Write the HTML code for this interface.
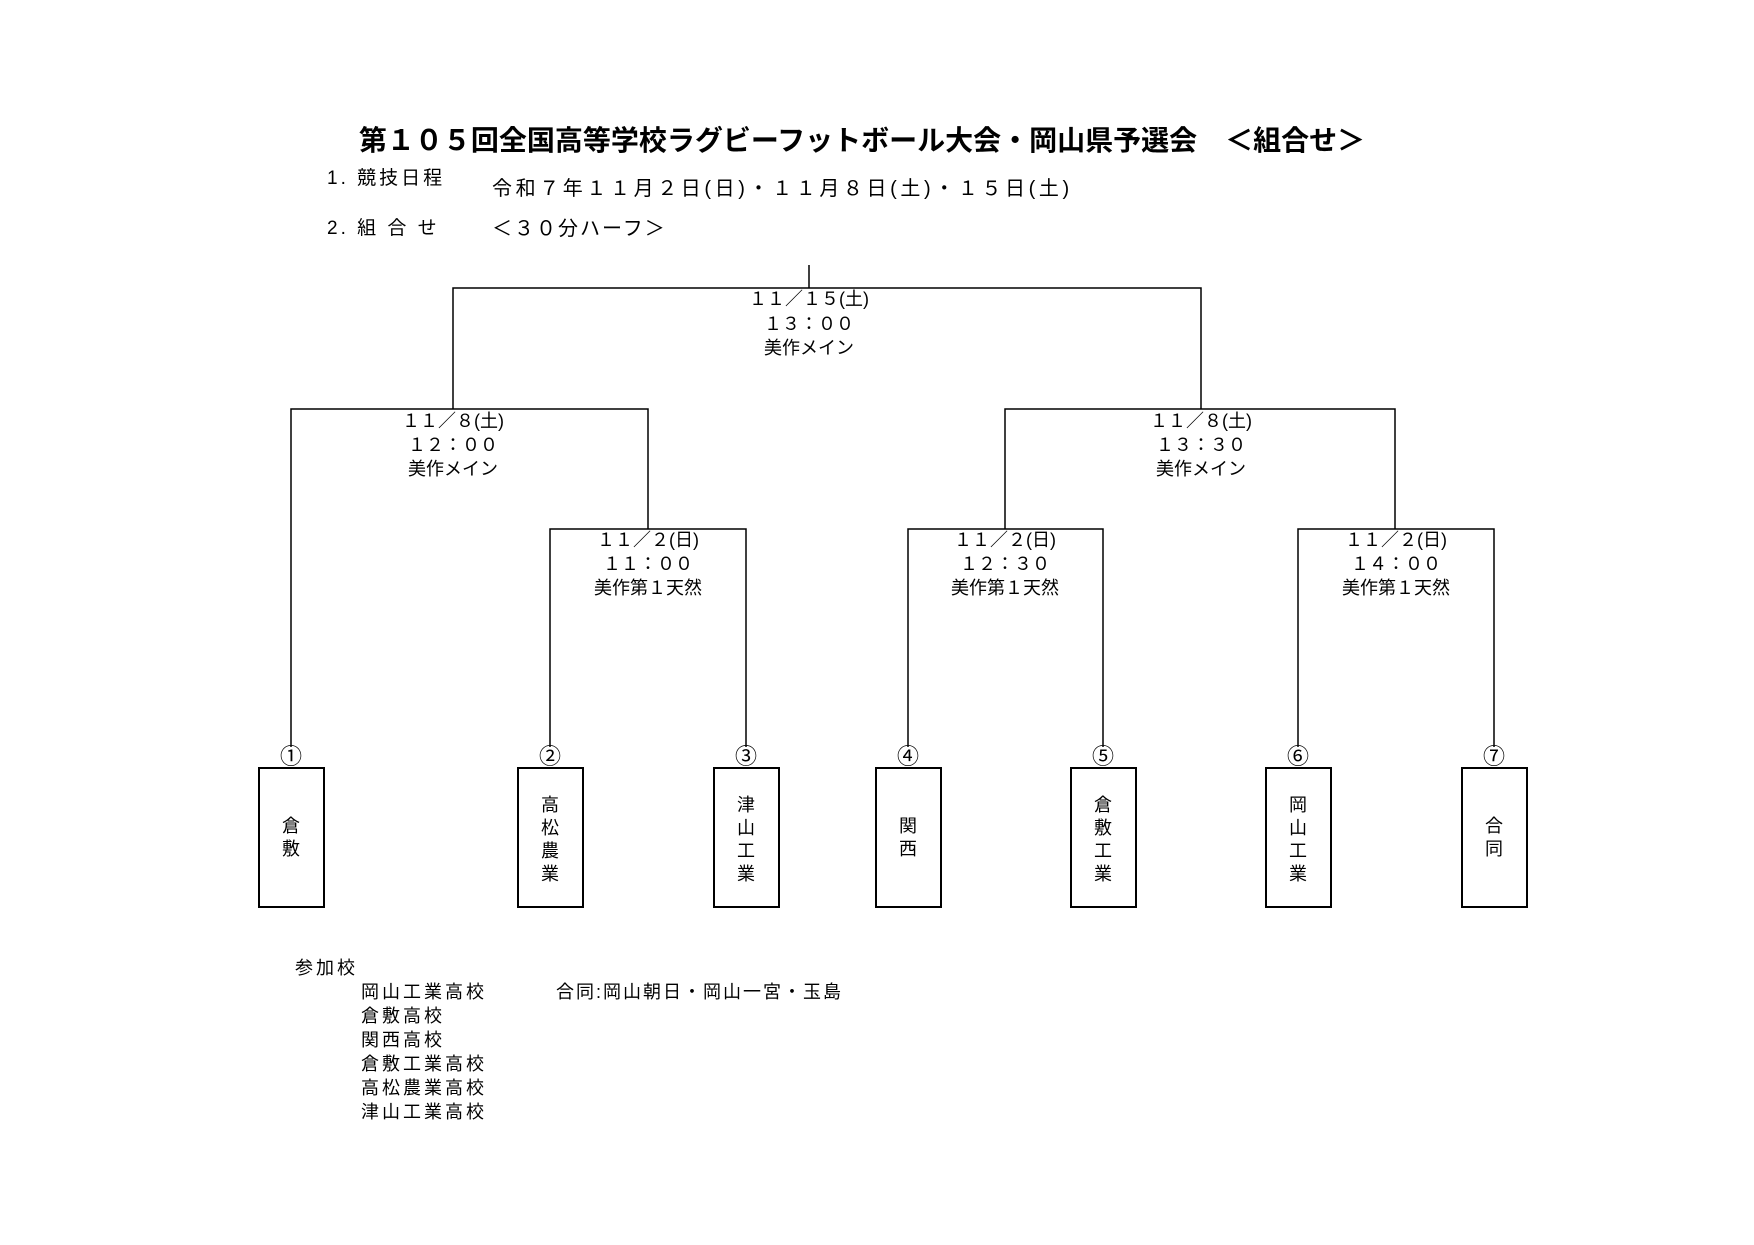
<!DOCTYPE html>
<html><head><meta charset="utf-8"><style>
html,body{margin:0;padding:0;background:#fff}
svg text{font-family:"Liberation Sans","Noto Sans CJK JP",sans-serif;fill:#000}
</style></head><body>
<svg width="1754" height="1240" viewBox="0 0 1754 1240" xmlns="http://www.w3.org/2000/svg">
<text x="862" y="150" font-size="28" font-weight="bold" text-anchor="middle">第１０５回全国高等学校ラグビーフットボール大会・岡山県予選会　＜組合せ＞</text>
<text x="327" y="184" font-size="19" letter-spacing="3">1.  競技日程</text>
<text x="492" y="195" font-size="20" letter-spacing="3.6">令和７年１１月２日(日)・１１月８日(土)・１５日(土)</text>
<text x="327" y="234" font-size="19" letter-spacing="3">2.  組  合  せ</text>
<text x="492" y="235" font-size="20" letter-spacing="2">＜３０分ハーフ＞</text>
<g stroke="#000" stroke-width="1.5" fill="none">
<path d="M809 265V288M453 409V288H1201V409"/>
<path d="M291 747V409H648V529M550 747V529H746V747"/>
<path d="M1005 529V409H1395V529"/>
<path d="M908 747V529H1103V747M1298 747V529H1494V747"/>
</g>
<g font-size="18" text-anchor="middle">
<text x="809" y="305">１１／１５(土)</text><text x="809" y="330">１３：００</text><text x="809" y="354">美作メイン</text>
<text x="453" y="427">１１／８(土)</text><text x="453" y="451">１２：００</text><text x="453" y="475">美作メイン</text>
<text x="1201" y="427">１１／８(土)</text><text x="1201" y="451">１３：３０</text><text x="1201" y="475">美作メイン</text>
<text x="648" y="546">１１／２(日)</text><text x="648" y="570">１１：００</text><text x="648" y="594">美作第１天然</text>
<text x="1005" y="546">１１／２(日)</text><text x="1005" y="570">１２：３０</text><text x="1005" y="594">美作第１天然</text>
<text x="1396" y="546">１１／２(日)</text><text x="1396" y="570">１４：００</text><text x="1396" y="594">美作第１天然</text>
</g>
<g stroke="#000" stroke-width="2" fill="none">
<rect x="259" y="768" width="65" height="139"/>
<rect x="518" y="768" width="65" height="139"/>
<rect x="714" y="768" width="65" height="139"/>
<rect x="876" y="768" width="65" height="139"/>
<rect x="1071" y="768" width="65" height="139"/>
<rect x="1266" y="768" width="65" height="139"/>
<rect x="1462" y="768" width="65" height="139"/>
</g>
<g font-size="22" text-anchor="middle">
<text x="291" y="764">①</text><text x="550" y="764">②</text><text x="746" y="764">③</text><text x="908" y="764">④</text><text x="1103" y="764">⑤</text><text x="1298" y="764">⑥</text><text x="1494" y="764">⑦</text>
</g>
<g font-size="18" text-anchor="middle">
<text x="291" y="832">倉</text><text x="291" y="855">敷</text>
<text x="550" y="811">高</text><text x="550" y="834">松</text><text x="550" y="857">農</text><text x="550" y="880">業</text>
<text x="746" y="811">津</text><text x="746" y="834">山</text><text x="746" y="857">工</text><text x="746" y="880">業</text>
<text x="908" y="832">関</text><text x="908" y="855">西</text>
<text x="1103" y="811">倉</text><text x="1103" y="834">敷</text><text x="1103" y="857">工</text><text x="1103" y="880">業</text>
<text x="1298" y="811">岡</text><text x="1298" y="834">山</text><text x="1298" y="857">工</text><text x="1298" y="880">業</text>
<text x="1494" y="832">合</text><text x="1494" y="855">同</text>
</g>
<g font-size="18" letter-spacing="3">
<text x="295" y="974">参加校</text>
<text x="361" y="998">岡山工業高校</text>
<text x="556" y="998" letter-spacing="2">合同:岡山朝日・岡山一宮・玉島</text>
<text x="361" y="1022">倉敷高校</text>
<text x="361" y="1046">関西高校</text>
<text x="361" y="1070">倉敷工業高校</text>
<text x="361" y="1094">高松農業高校</text>
<text x="361" y="1118">津山工業高校</text>
</g>
</svg>
</body></html>
